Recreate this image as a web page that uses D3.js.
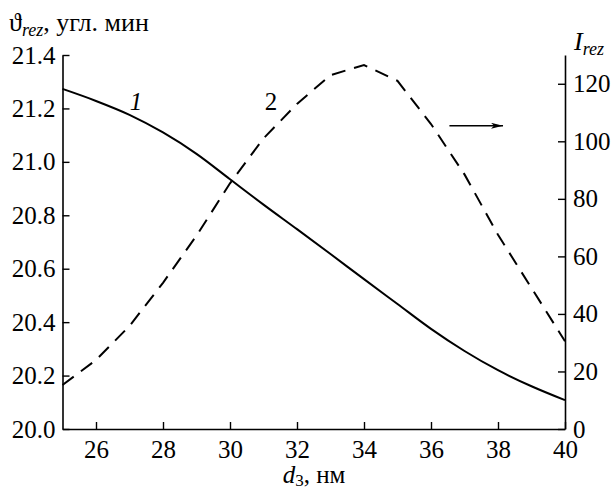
<!DOCTYPE html>
<html>
<head>
<meta charset="utf-8">
<script src="https://cdn.jsdelivr.net/npm/d3@7"></script>
<style>
  body { margin: 0; background: #fff; }
  svg { display: block; }
  text { font-family: "Liberation Serif", "Times New Roman", serif; fill: #000; }
</style>
</head>
<body>
<div id="chart"></div>
<script>
// thickness d3 (nm)
const d3nm = [25, 26, 27, 28, 29, 30, 31, 32, 33, 34, 35, 36, 37, 38, 39, 40]
// curve 1: resonance angle, arc minutes (left axis)
const thetaRez = [21.273, 21.228, 21.176, 21.11, 21.03, 20.935, 20.84, 20.748, 20.655, 20.561, 20.468, 20.375, 20.292, 20.22, 20.16, 20.108]
// curve 2: resonance intensity (right axis)
const intRez = [15.3, 24, 35.8, 50.8, 67.2, 85.4, 101, 113, 123, 126.5, 121, 106, 88.5, 67.5, 49, 30.5]

const xTicks = [26, 28, 30, 32, 34, 36, 38, 40]
const leftTicks = [20.0, 20.2, 20.4, 20.6, 20.8, 21.0, 21.2, 21.4]
const rightTicks = [0, 20, 40, 60, 80, 100, 120]

const W = 613, H = 489
const MARGIN = { TOP: 55, BOTTOM: 60, LEFT: 62.5, RIGHT: 48 }
const FONT = 25

const svg = d3.select("#chart").append("svg")
	.attr("width", W)
	.attr("height", H)

const x = d3.scaleLinear().domain([25, 40]).range([MARGIN.LEFT, W - MARGIN.RIGHT])
const yL = d3.scaleLinear().domain([20, 21.4]).range([H - MARGIN.BOTTOM, MARGIN.TOP])
const yR = d3.scaleLinear().domain([0, 130]).range([H - MARGIN.BOTTOM, MARGIN.TOP])

function styleAxis(g) {
	g.attr("font-family", "Liberation Serif, serif")
	g.select(".domain").attr("stroke", "#000").attr("stroke-width", 1.6)
	g.selectAll(".tick line").attr("stroke", "#000").attr("stroke-width", 1.4)
	g.selectAll(".tick text")
		.style("font-size", FONT + "px")
		.attr("fill", "#000")
}

// bottom axis
svg.append("g")
	.attr("transform", `translate(0,${H - MARGIN.BOTTOM})`)
	.call(d3.axisBottom(x).tickValues(xTicks).tickSize(-7).tickSizeOuter(0).tickPadding(11))
	.call(styleAxis)

// left axis
svg.append("g")
	.attr("transform", `translate(${MARGIN.LEFT},0)`)
	.call(d3.axisLeft(yL).tickValues(leftTicks).tickFormat(d3.format(".1f")).tickSize(-7).tickSizeOuter(0).tickPadding(7))
	.call(styleAxis)

// right axis
svg.append("g")
	.attr("transform", `translate(${W - MARGIN.RIGHT},0)`)
	.call(d3.axisRight(yR).tickValues(rightTicks).tickSize(-7).tickSizeOuter(0).tickPadding(8))
	.call(styleAxis)

// curves
const line1 = d3.line()
	.x((d, i) => x(d3nm[i]))
	.y(d => yL(d))
	.curve(d3.curveMonotoneX)

const line2 = d3.line()
	.x((d, i) => x(d3nm[i]))
	.y(d => yR(d))

svg.append("path")
	.datum(thetaRez)
	.attr("d", line1)
	.attr("fill", "none")
	.attr("stroke", "#000")
	.attr("stroke-width", 2)

svg.append("path")
	.datum(intRez)
	.attr("d", line2)
	.attr("fill", "none")
	.attr("stroke", "#000")
	.attr("stroke-width", 2)
	.attr("stroke-dasharray", "14,9")

// curve labels
svg.append("text")
	.attr("x", 136).attr("y", 110)
	.attr("text-anchor", "middle")
	.style("font-size", FONT + "px")
	.style("font-style", "italic")
	.text("1")

svg.append("text")
	.attr("x", 271).attr("y", 110)
	.attr("text-anchor", "middle")
	.style("font-size", FONT + "px")
	.text("2")

// arrow pointing to the right axis
svg.append("defs").append("marker")
	.attr("id", "arr")
	.attr("viewBox", "0 0 12 6")
	.attr("refX", 12).attr("refY", 3)
	.attr("markerWidth", 12).attr("markerHeight", 6)
	.attr("markerUnits", "userSpaceOnUse")
	.attr("orient", "auto")
	.append("path")
	.attr("d", "M0,0 L12,3 L0,6 L3,3 Z")
	.attr("fill", "#000")

svg.append("line")
	.attr("x1", x(36.55)).attr("x2", x(38.15))
	.attr("y1", yR(105.4)).attr("y2", yR(105.4))
	.attr("stroke", "#000")
	.attr("stroke-width", 1.3)
	.attr("marker-end", "url(#arr)")

// left axis title
const tL = svg.append("text")
	.attr("x", 9).attr("y", 31)
	.style("font-size", "26px")
tL.append("tspan").text("ϑ")
tL.append("tspan").attr("dy", 5).style("font-size", "18px").style("font-style", "italic").text("rez")
tL.append("tspan").attr("dy", -5).text(", угл. мин")

// right axis title
const tR = svg.append("text")
	.attr("x", 574).attr("y", 50)
	.style("font-size", "26px")
tR.append("tspan").style("font-style", "italic").text("I")
tR.append("tspan").attr("dy", 5).style("font-size", "18px").style("font-style", "italic").text("rez")

// bottom axis title
const tB = svg.append("text")
	.attr("x", 314).attr("y", 483)
	.attr("text-anchor", "middle")
	.style("font-size", "25px")
tB.append("tspan").style("font-style", "italic").text("d")
tB.append("tspan").attr("dy", 3).style("font-size", "17px").text("3")
tB.append("tspan").attr("dy", -3).text(", нм")
</script>
</body>
</html>
